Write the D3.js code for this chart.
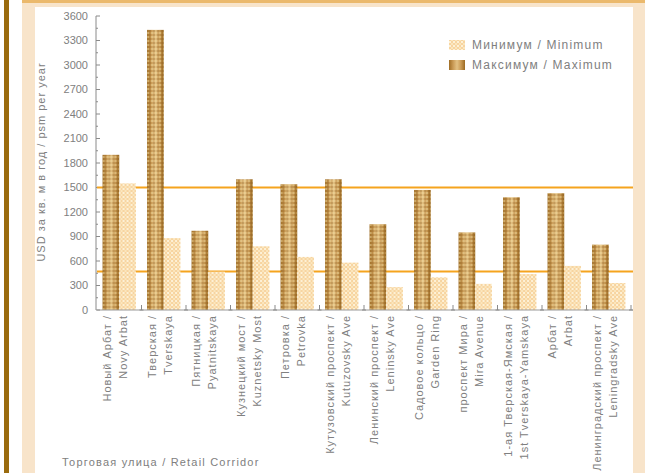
<!DOCTYPE html>
<html>
<head>
<meta charset="utf-8">
<script src="https://cdn.jsdelivr.net/npm/d3@7"></script>
<style>
  html, body { margin: 0; padding: 0; background: #f8e4ca; }
  svg { display: block; }
  text { font-family: "Liberation Sans", Arial, sans-serif; fill: #808080; }
</style>
</head>
<body>
<div id="chart"></div>
<script>
// chart data
var streetsRu = ["Новый Арбат /", "Тверская /", "Пятницкая /", "Кузнецкий мост /", "Петровка /",
                 "Кутузовский проспект /", "Ленинский проспект /", "Садовое кольцо /", "проспект Мира /",
                 "1-ая Тверская-Ямская /", "Арбат /", "Ленинградский проспект /"];
var streetsEn = ["Novy Arbat", "Tverskaya", "Pyatnitskaya", "Kuznetsky Most", "Petrovka",
                 "Kutuzovsky Ave", "Leninsky Ave", "Garden Ring", "Mira Avenue",
                 "1st Tverskaya-Yamskaya", "Arbat", "Leningradsky Ave"];
var maxValues = [1900, 3430, 970, 1600, 1540, 1600, 1050, 1470, 950, 1380, 1430, 800];
var minValues = [1550, 880, 470, 780, 650, 580, 280, 400, 320, 440, 540, 330];
var yTicks = [0, 300, 600, 900, 1200, 1500, 1800, 2100, 2400, 2700, 3000, 3300, 3600];
var refLines = [1500, 470];
var seriesNames = ["Минимум / Minimum", "Максимум / Maximum"];

var W = 645, H = 473;

var svg = d3.select("#chart").append("svg")
            .attr("width", W)
            .attr("height", H);

// frame decoration
svg.append("rect").attr("x", 0).attr("y", 0).attr("width", W).attr("height", H).attr("fill", "#f8e4ca");
svg.append("rect").attr("x", 0).attr("y", 0).attr("width", 22).attr("height", H).attr("fill", "#ffffff");
svg.append("rect").attr("x", 4).attr("y", 0).attr("width", 5).attr("height", H).attr("fill", "#9a6b0e");
svg.append("rect").attr("x", 22).attr("y", 0).attr("width", W - 22).attr("height", 3).attr("fill", "#ebb96c");
svg.append("rect").attr("x", 35).attr("y", 7).attr("width", 598).attr("height", H - 7).attr("fill", "#ffffff");

// patterns for the bars
var defs = svg.append("defs");

var grad = defs.append("linearGradient").attr("id", "darkGrad")
               .attr("x1", "0%").attr("x2", "100%").attr("y1", "0%").attr("y2", "0%");
[[0, "#a06e26"], [0.25, "#c99a55"], [0.5, "#e3c183"], [0.75, "#c99a55"], [1, "#9c6a22"]]
  .forEach(function(s) { grad.append("stop").attr("offset", s[0]).attr("stop-color", s[1]); });

var dots = defs.append("pattern").attr("id", "darkDots")
               .attr("patternUnits", "userSpaceOnUse").attr("width", 4).attr("height", 4);
dots.append("rect").attr("width", 2).attr("height", 2).attr("fill", "#f4e2a8").attr("opacity", 0.45);
dots.append("rect").attr("x", 2).attr("y", 2).attr("width", 2).attr("height", 2).attr("fill", "#7a5018").attr("opacity", 0.25);

var light = defs.append("pattern").attr("id", "lightDots")
                .attr("patternUnits", "userSpaceOnUse").attr("width", 4).attr("height", 4);
light.append("rect").attr("width", 4).attr("height", 4).attr("fill", "#f7d4a0");
light.append("rect").attr("width", 2).attr("height", 2).attr("fill", "#fdf1d6");
light.append("rect").attr("x", 2).attr("y", 2).attr("width", 2).attr("height", 2).attr("fill", "#fbe6bd");

// scales
var x0 = d3.scaleBand()
           .domain(d3.range(streetsRu.length))
           .range([97, 631])
           .paddingInner(0.25)
           .paddingOuter(0.125);

var x1 = d3.scaleBand()
           .domain(["max", "min"])
           .range([0, x0.bandwidth()]);

var y = d3.scaleLinear()
          .domain([0, 3600])
          .range([310, 16]);

// y axis
var yAxis = svg.append("g").attr("transform", "translate(96,0)");
yAxis.append("line").attr("x1", 0).attr("x2", 0).attr("y1", y(3600)).attr("y2", y(0))
     .attr("stroke", "#8a8a8a").attr("stroke-width", 1);
yAxis.selectAll(".minor").data(d3.range(150, 3600, 300)).enter().append("line")
     .attr("x1", 0).attr("x2", 2).attr("y1", d => y(d)).attr("y2", d => y(d))
     .attr("stroke", "#8a8a8a");
yAxis.selectAll(".major").data(yTicks).enter().append("line")
     .attr("x1", 0).attr("x2", 4).attr("y1", d => y(d)).attr("y2", d => y(d))
     .attr("stroke", "#8a8a8a");
yAxis.selectAll(".lbl").data(yTicks).enter().append("text")
     .attr("x", -8).attr("y", d => y(d)).attr("dy", "0.35em")
     .attr("text-anchor", "end")
     .style("font-size", "11px")
     .text(d => d);

svg.append("text")
   .attr("transform", "translate(45,162) rotate(-90)")
   .attr("text-anchor", "middle")
   .style("font-size", "11px").style("letter-spacing", "1px")
   .text("USD за кв. м в год / psm per year");

// reference lines
svg.selectAll(".ref").data(refLines).enter().append("line")
   .attr("x1", 97).attr("x2", 633)
   .attr("y1", d => y(d)).attr("y2", d => y(d))
   .attr("stroke", "#f5a41e").attr("stroke-width", 2);

// bars
var groups = svg.selectAll(".street").data(streetsRu).enter().append("g")
                .attr("class", "street")
                .attr("transform", (d, i) => `translate(${x0(i)},0)`);

groups.append("rect")
      .attr("x", x1("max")).attr("width", x1.bandwidth())
      .attr("y", (d, i) => y(maxValues[i])).attr("height", (d, i) => y(0) - y(maxValues[i]))
      .attr("fill", "url(#darkGrad)");
groups.append("rect")
      .attr("x", x1("max")).attr("width", x1.bandwidth())
      .attr("y", (d, i) => y(maxValues[i])).attr("height", (d, i) => y(0) - y(maxValues[i]))
      .attr("fill", "url(#darkDots)");
groups.append("rect")
      .attr("x", x1("min")).attr("width", x1.bandwidth())
      .attr("y", (d, i) => y(minValues[i])).attr("height", (d, i) => y(0) - y(minValues[i]))
      .attr("fill", "url(#lightDots)");

// x axis
svg.append("line").attr("x1", 97).attr("x2", 633).attr("y1", y(0)).attr("y2", y(0))
   .attr("stroke", "#9a9a9a");
svg.selectAll(".xtick").data(d3.range(1, streetsRu.length + 1)).enter().append("path")
   .attr("d", d => {
     var xx = 97 + x0.step() * d;
     return `M${xx},${y(0) - 5}L${xx},${y(0)}M${xx - 2},${y(0)}L${xx + 2},${y(0)}`;
   })
   .attr("stroke", "#8a8a8a").attr("fill", "none");

var labels = svg.selectAll(".xlbl").data(streetsRu).enter().append("g")
                .attr("transform", (d, i) => `translate(${x0(i) + x0.bandwidth() / 2},315)`);
labels.append("text")
      .attr("transform", "translate(-12,0) rotate(-90)")
      .attr("dy", "0.35em").attr("text-anchor", "end")
      .style("font-size", "11px").style("letter-spacing", "1px")
      .text(d => d);
labels.append("text")
      .attr("transform", "translate(4,0) rotate(-90)")
      .attr("dy", "0.35em").attr("text-anchor", "end")
      .style("font-size", "11px").style("letter-spacing", "1px")
      .text((d, i) => streetsEn[i]);

svg.append("text")
   .attr("x", 62).attr("y", 466)
   .style("font-size", "11px").style("letter-spacing", "1.2px")
   .text("Торговая улица / Retail Corridor");

// legend
var legend = svg.selectAll(".legend").data(seriesNames).enter().append("g")
                .attr("transform", (d, i) => `translate(449,${45 + i * 20})`);
legend.append("rect").attr("x", 0).attr("y", -5).attr("width", 16).attr("height", 10)
      .attr("fill", (d, i) => i === 0 ? "url(#lightDots)" : "url(#darkGrad)");
legend.append("text").attr("x", 23).attr("dy", "0.35em")
      .style("font-size", "12px").style("letter-spacing", "1.2px")
      .text(d => d);
</script>
</body>
</html>
